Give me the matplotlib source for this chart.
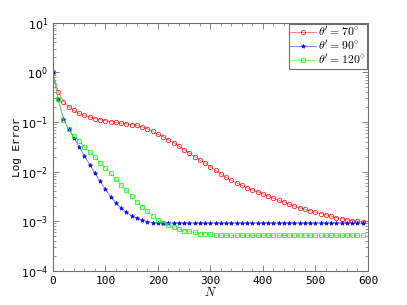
import matplotlib
matplotlib.use("Agg")
import matplotlib.pyplot as plt
from matplotlib.ticker import LogLocator, MultipleLocator, NullFormatter

# sample sizes
N = list(range(0, 600, 10))

# error for theta' = 70 deg
err_70 = [1.0, 0.41, 0.257, 0.204, 0.170, 0.148, 0.135, 0.126, 0.117, 0.111,
          0.106, 0.101, 0.0977, 0.0944, 0.0912, 0.0881, 0.0851, 0.0794, 0.0724, 0.0646,
          0.0562, 0.0501, 0.0437, 0.0380, 0.0324, 0.0275, 0.0234, 0.0200, 0.0170, 0.0148,
          0.0126, 0.0105, 0.00891, 0.00759, 0.00661, 0.00589, 0.00525, 0.00468, 0.00427, 0.00389,
          0.00355, 0.00324, 0.00288, 0.00263, 0.00245, 0.00219, 0.00200, 0.00186, 0.00174, 0.00162,
          0.00151, 0.00141, 0.00135, 0.00126, 0.00117, 0.00112, 0.00107, 0.00102, 0.00100, 0.000955]

# error for theta' = 90 deg
err_90 = [1.0, 0.288, 0.117, 0.0708, 0.0479, 0.0316, 0.0209, 0.0138, 0.00912, 0.00631,
          0.00437, 0.00309, 0.00234, 0.00186, 0.00151, 0.00129, 0.00115, 0.00105, 0.000977, 0.000933,
          0.000915, 0.000912, 0.000912, 0.000912, 0.000912, 0.000912, 0.000912, 0.000912, 0.000912, 0.000912,
          0.000912, 0.000912, 0.000912, 0.000912, 0.000912, 0.000912, 0.000912, 0.000912, 0.000912, 0.000912,
          0.000912, 0.000912, 0.000912, 0.000912, 0.000912, 0.000912, 0.000912, 0.000912, 0.000912, 0.000912,
          0.000912, 0.000912, 0.000912, 0.000912, 0.000912, 0.000912, 0.000912, 0.000912, 0.000912, 0.000912]

# error for theta' = 120 deg
err_120 = [1.0, 0.288, 0.110, 0.0724, 0.0525, 0.0407, 0.0316, 0.0251, 0.0195, 0.0151,
           0.0117, 0.00912, 0.00692, 0.00525, 0.00417, 0.00316, 0.00245, 0.00195, 0.00158, 0.00129,
           0.00107, 0.000933, 0.000832, 0.000759, 0.000692, 0.000646, 0.000617, 0.000589, 0.000562, 0.000550,
           0.000537, 0.000525, 0.000513, 0.000513, 0.000513, 0.000513, 0.000513, 0.000513, 0.000513, 0.000513,
           0.000513, 0.000513, 0.000513, 0.000513, 0.000513, 0.000513, 0.000513, 0.000513, 0.000513, 0.000513,
           0.000513, 0.000513, 0.000513, 0.000513, 0.000513, 0.000513, 0.000513, 0.000513, 0.000513, 0.000513]

labels = [r"$\theta' = 70^{\circ}$", r"$\theta' = 90^{\circ}$", r"$\theta' = 120^{\circ}$"]

plt.rcParams['mathtext.fontset'] = 'custom'
plt.rcParams['mathtext.rm'] = 'DejaVu Sans Mono'
plt.rcParams['mathtext.it'] = 'DejaVu Sans Mono'

gray = "#6e6e6e"

fig = plt.figure(figsize=(4.07, 3.05), dpi=100)
ax = fig.add_axes([0.13, 0.1125, 0.774, 0.813])

ax.plot(N, err_70, color="#ff5050", lw=0.5, marker="o", ms=3.2, mfc="none", mec="r", mew=0.5, label=labels[0])
ax.plot(N, err_90, color="#5050ff", lw=0.5, marker="*", ms=3.2, mfc="b", mec="b", mew=0.4, label=labels[1])
ax.plot(N, err_120, color="#50ff50", lw=0.5, marker="s", ms=2.6, mfc="none", mec="#00ee00", mew=0.5, label=labels[2])

ax.set_yscale("log")
ax.set_xlim(0, 600)
ax.set_ylim(1e-4, 1e1)
ax.xaxis.set_major_locator(MultipleLocator(100))
ax.xaxis.set_minor_locator(MultipleLocator(20))
ax.yaxis.set_major_locator(LogLocator(base=10, numticks=10))
ax.yaxis.set_minor_locator(LogLocator(base=10, subs=range(2, 10), numticks=10))
ax.yaxis.set_minor_formatter(NullFormatter())

ax.tick_params(which="both", direction="in", top=True, right=True, color=gray, labelsize=8)
ax.tick_params(which="major", length=4, width=0.6)
ax.tick_params(which="minor", length=2, width=0.5)
for lab in ax.get_xticklabels():
    lab.set_family("DejaVu Sans Mono")
for sp in ax.spines.values():
    sp.set_color(gray)
    sp.set_linewidth(0.8)

ax.set_xlabel(r"$N$", fontsize=9, math_fontfamily="cm", labelpad=0)
ax.set_ylabel("Log Error", fontsize=8, family="Liberation Mono", labelpad=-1)

leg = ax.legend(loc="upper right", fancybox=False, framealpha=1,
                edgecolor=gray, borderpad=0.1, labelspacing=0.0, handlelength=2.2,
                handletextpad=0.2, borderaxespad=0.1, prop={"math_fontfamily": "cm", "size": 8.5})
leg.get_frame().set_linewidth(0.8)

fig.savefig("out.png", dpi=100)
